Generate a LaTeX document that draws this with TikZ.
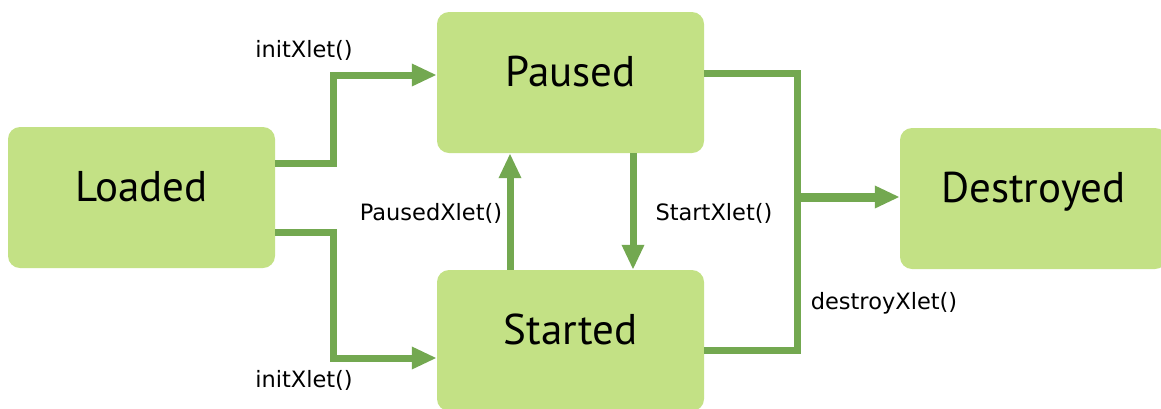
\documentclass[tikz,border=0pt]{standalone}
\usepackage{fontspec}
\setmainfont{PT Sans}
\newfontfamily\callfont{DejaVu Sans}
\usetikzlibrary{arrows.meta,calc}
\definecolor{stateFill}{HTML}{C3E185}
\definecolor{flowGreen}{HTML}{73A850}
\tikzset{
  state/.style={rectangle, rounded corners=12pt, fill=stateFill,
    minimum width=267pt, text height=74pt, text depth=67pt,
    inner xsep=0pt, inner ysep=0pt, font=\fontsize{43}{48}\selectfont},
  flow/.style={draw=flowGreen, line width=7pt, line join=miter},
  flowarrow/.style={flow, -{Triangle[length=25pt,width=21pt]}},
  call/.style={font=\callfont\fontsize{22.5}{26}\selectfont, inner sep=0pt}
}
\begin{document}
\begin{tikzpicture}[x=1pt, y=-1pt]
  \useasboundingbox (0,0) rectangle (1161,408);
  \clip (0,0) rectangle (1161,408);

  % states
  \node[state] (loaded)    at (141.5,197.5) {Loaded};
  \node[state] (paused)    at (570.5,82.5)  {Paused};
  \node[state] (started)   at (570.5,340.5) {Started};
  \node[state] (destroyed) at (1033.5,198.5) {Destroyed};

  % ports on the state boxes
  \coordinate (pIn)  at ([yshift=7.5pt]paused.west);
  \coordinate (sIn)  at ([yshift=-17.5pt]started.west);
  \coordinate (pOut) at ([yshift=9.5pt]paused.east);
  \coordinate (sOut) at ([yshift=-9.5pt]started.east);

  % bend columns
  \coordinate (bendL) at (333,0);
  \coordinate (bendR) at (797,197);

  % Loaded -> Paused / Started
  \draw[flowarrow] ([yshift=34.5pt]loaded.east) -| (bendL |- pIn) -- (pIn);
  \draw[flowarrow] ([yshift=-34.5pt]loaded.east) -| (bendL |- sIn) -- (sIn);

  % Paused <-> Started
  \draw[flowarrow] ([xshift=-60.5pt]started.north) -- ([xshift=-60.5pt]paused.south);
  \draw[flowarrow] ([xshift=62.5pt]paused.south) -- ([xshift=62.5pt]started.north);

  % Paused / Started -> Destroyed
  \draw[flow] (pOut) -| (bendR) |- (sOut);
  \draw[flowarrow, line width=9pt] (bendR) -- (bendR -| destroyed.west);

  % calls
  \node[call] (init1)   at (304,50)  {initXlet()};
  \node[call] (init2)   at (304,380) {initXlet()};
  \node[call] (pcall)   at (431,213) {PausedXlet()};
  \node[call] (scall)   at (714,213) {StartXlet()};
  \node[call] (dcall)   at (884,303) {destroyXlet()};
\end{tikzpicture}
\end{document}
